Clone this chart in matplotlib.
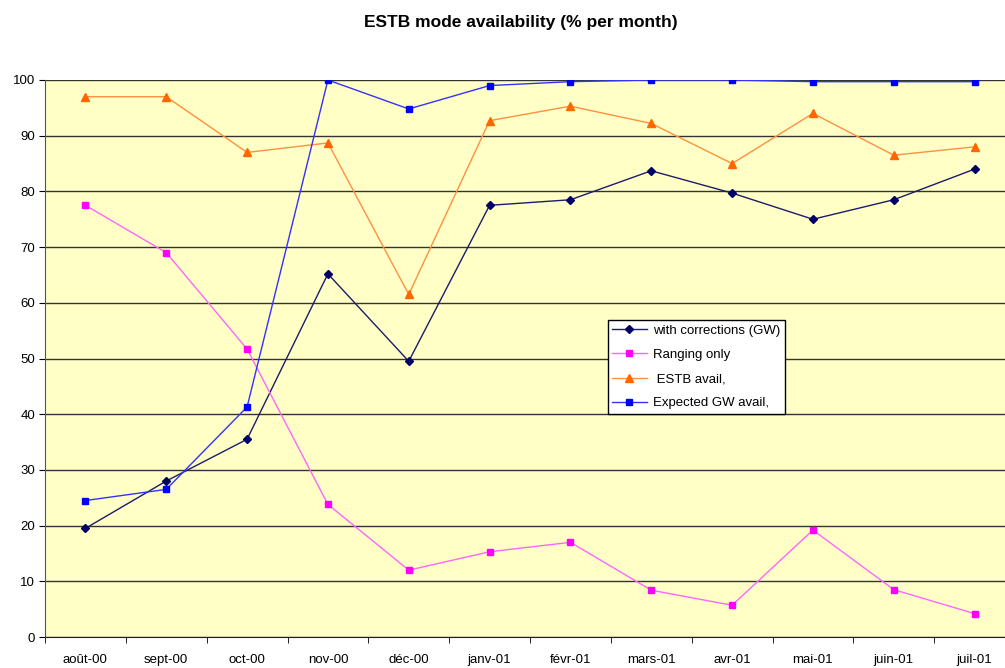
import matplotlib.pyplot as plt
from matplotlib.ticker import FixedLocator

plt.rcParams["font.family"] = ["Liberation Sans", "DejaVu Sans"]

months = ["août-00", "sept-00", "oct-00", "nov-00", "déc-00", "janv-01",
          "févr-01", "mars-01", "avr-01", "mai-01", "juin-01", "juil-01"]
with_corrections = [19.5, 28.0, 35.5, 65.2, 49.5, 77.5, 78.5, 83.7, 79.7, 75.0, 78.5, 84.0]
ranging_only = [77.5, 69.0, 51.7, 23.8, 12.0, 15.3, 17.0, 8.4, 5.7, 19.2, 8.5, 4.2]
estb_avail = [97.0, 97.0, 87.0, 88.7, 61.5, 92.7, 95.3, 92.2, 85.0, 94.0, 86.5, 88.0]
expected_gw = [24.5, 26.5, 41.3, 100.0, 94.8, 99.0, 99.7, 100.0, 100.0, 99.7, 99.7, 99.7]

W, H = 1005, 668
fig = plt.figure(figsize=(W / 100, H / 100), dpi=100)
ax = fig.add_axes([45 / W, (H - 637) / H, (1015 - 45) / W, (637 - 80) / H])
ax.set_facecolor("#FFFFC6")

x = list(range(len(months)))
ax.plot(x, with_corrections, color="#1c1c6e", lw=1, marker="D", ms=4.5,
        mfc="#000066", mec="#000066", label="with corrections (GW)")
ax.plot(x, ranging_only, color="#ff66ff", lw=1, marker="s", ms=5,
        mfc="#ff00ff", mec="#ff00ff", label="Ranging only")
ax.plot(x, estb_avail, color="#ff9040", lw=1, marker="^", ms=6,
        mfc="#ff6600", mec="#ff6600", label=" ESTB avail,")
ax.plot(x, expected_gw, color="#3333ff", lw=1, marker="s", ms=5,
        mfc="#0000ff", mec="#0000ff", label="Expected GW avail,")

ax.set_xlim(-0.5, len(months) - 0.5)
ax.set_ylim(0, 100)
ax.set_yticks(range(0, 101, 10))
ax.set_xticks(x)
ax.set_xticklabels(months)
ax.xaxis.set_minor_locator(FixedLocator([i - 0.5 for i in range(len(months) + 1)]))
ax.tick_params(axis="x", which="major", length=0, pad=12, labelsize=9.5)
ax.tick_params(axis="x", which="minor", length=4, direction="out")
ax.tick_params(axis="y", length=4, direction="out", labelsize=9.5, pad=3)

ax.grid(axis="y", color="#333333", lw=1)
ax.set_axisbelow(True)
for side in ["top", "right"]:
    ax.spines[side].set_visible(False)
ax.spines["left"].set_color("#555555")
ax.spines["bottom"].set_color("#222222")

leg = ax.legend(loc="upper left", bbox_to_anchor=(0.58, 0.569), fontsize=9.5,
                frameon=True, fancybox=False, framealpha=1, edgecolor="black",
                borderpad=0.35, labelspacing=0.9, handlelength=2.6,
                handletextpad=0.5, borderaxespad=0)
leg.get_frame().set_linewidth(1)

fig.text(521 / W, 1 - 22 / H, "ESTB mode availability (% per month)",
         ha="center", va="center", fontsize=12.5, fontweight="bold")

fig.savefig("out.png", dpi=100)
